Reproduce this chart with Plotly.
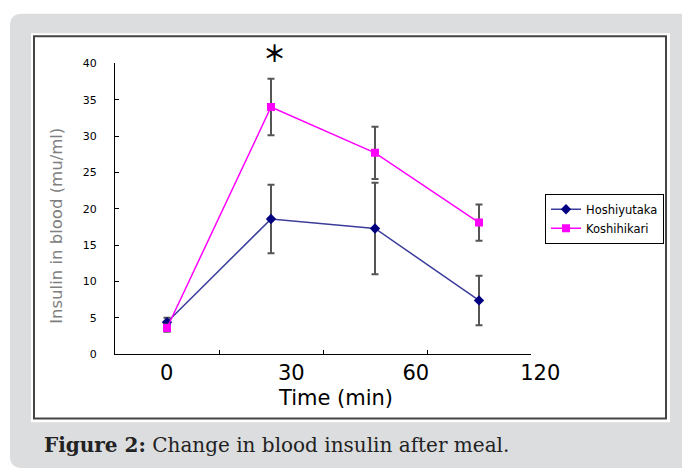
import plotly.graph_objects as go

# ---- data ----
time_labels = ["0", "30", "60", "120"]
hoshiyutaka = [4.4, 18.6, 17.3, 7.4]
hoshiyutaka_err = [0.6, 4.7, 6.3, 3.4]
koshihikari = [3.6, 34.0, 27.7, 18.1]
koshihikari_err = [0.5, 3.9, 3.6, 2.5]
y_ticks = [0, 5, 10, 15, 20, 25, 30, 35, 40]

W, H = 682, 476


def px(x):
    return x / W


def py(y):
    return 1 - y / H


fig = go.Figure()

fig.add_trace(go.Scatter(
    x=time_labels, y=hoshiyutaka, name="Hoshiyutaka", mode="lines+markers",
    line=dict(color="#3c3c9c", width=1.5),
    marker=dict(symbol="diamond", size=8, color="#000080"),
    error_y=dict(type="data", array=hoshiyutaka_err, visible=True,
                 color="#555555", thickness=2, width=3.5),
))
fig.add_trace(go.Scatter(
    x=time_labels, y=koshihikari, name="Koshihikari", mode="lines+markers",
    line=dict(color="#ff00ff", width=1.5),
    marker=dict(symbol="square", size=8, color="#ff00ff"),
    error_y=dict(type="data", array=koshihikari_err, visible=True,
                 color="#555555", thickness=2, width=3.5),
))
# empty trace so the label axis is rendered
fig.add_trace(go.Scatter(x=[], y=[], xaxis="x2", yaxis="y", showlegend=False,
                         hoverinfo="skip"))

# geometry of the labelled axis
x_left, x_right = 115, 531
lab0, lab_step = 166.75, 124.5
x2_right = 590

# rounded grey panel
x0, y0, x1, y1, r = 10, 8, 700, 475, 12
panel = (f"M {px(x0)},{py(y0 + r)} Q {px(x0)},{py(y0)} {px(x0 + r)},{py(y0)} "
         f"L {px(x1)},{py(y0)} L {px(x1)},{py(y1)} L {px(x0 + r)},{py(y1)} "
         f"Q {px(x0)},{py(y1)} {px(x0)},{py(y1 - r)} Z")

shapes = [
    dict(type="path", xref="paper", yref="paper", path=panel,
         fillcolor="#dcdddf", line=dict(width=0), layer="below"),
    dict(type="rect", xref="paper", yref="paper", x0=px(31), x1=px(670),
         y0=py(428), y1=py(28), fillcolor="white", line=dict(width=0),
         layer="below"),
    dict(type="rect", xref="paper", yref="paper", x0=px(34), x1=px(666),
         y0=py(424), y1=py(31), fillcolor="rgba(0,0,0,0)",
         line=dict(color="#444444", width=2), layer="below"),
]

annotations = [
    dict(text="Insulin in blood (mu/ml)", xref="paper", yref="paper",
         x=px(57), y=py(226), textangle=-90, showarrow=False,
         font=dict(family="DejaVu Sans", size=16.5, color="#808080"),
         xanchor="center", yanchor="middle"),
    dict(text="Time (min)", xref="paper", yref="paper", x=px(335), y=py(403),
         showarrow=False, font=dict(family="DejaVu Sans", size=21, color="black"),
         xanchor="center", yanchor="middle"),
    dict(text="<b>＊</b>", xref="paper", yref="paper", x=px(274.5), y=py(47),
         showarrow=False,
         font=dict(family="Noto Sans CJK JP", size=23, color="black"),
         xanchor="center", yanchor="middle"),
    dict(text="<b>Figure 2:</b> Change in blood insulin after meal.",
         xref="paper", yref="paper", x=px(42), y=py(451), showarrow=False,
         font=dict(family="DejaVu Serif", size=20, color="#222222"),
         xanchor="left", yanchor="middle"),
]

fig.update_layout(
    width=W, height=H, autosize=False,
    margin=dict(l=0, r=0, t=0, b=0),
    paper_bgcolor="white", plot_bgcolor="rgba(0,0,0,0)",
    shapes=shapes, annotations=annotations,
    showlegend=True,
    legend=dict(x=px(545), y=py(193), xanchor="left", yanchor="top",
                bgcolor="white", bordercolor="black", borderwidth=1,
                font=dict(family="DejaVu Sans", size=11.5, color="black"),
                itemwidth=30, tracegroupgap=0),
    xaxis=dict(domain=[px(x_left), px(x_right)], type="category",
               range=[-0.5, len(time_labels) - 0.5], tickson="boundaries",
               ticks="inside", ticklen=4, tickcolor="black",
               showticklabels=False, showline=True, linecolor="black",
               linewidth=1, showgrid=False, zeroline=False, anchor="y"),
    xaxis2=dict(domain=[px(x_left), px(x2_right)], anchor="y",
                range=[(x_left - lab0) / lab_step, (x2_right - lab0) / lab_step],
                tickmode="array", tickvals=list(range(len(time_labels))),
                ticktext=time_labels, ticks="", showline=False, showgrid=False,
                zeroline=False, ticklabelstandoff=4,
                tickfont=dict(family="DejaVu Sans", size=21, color="black")),
    yaxis=dict(domain=[py(358), py(59)], range=[0, 40], tickmode="array",
               tickvals=y_ticks, ticks="inside", ticklen=4, tickcolor="black",
               showline=True, linecolor="black", linewidth=1, showgrid=False,
               zeroline=False, ticklabelstandoff=15,
               tickfont=dict(family="DejaVu Sans", size=11, color="black")),
)

fig.write_html("out.html", config={"displayModeBar": False},
               post_script="document.body.style.margin='0';"
                           "document.body.style.overflow='hidden';")
